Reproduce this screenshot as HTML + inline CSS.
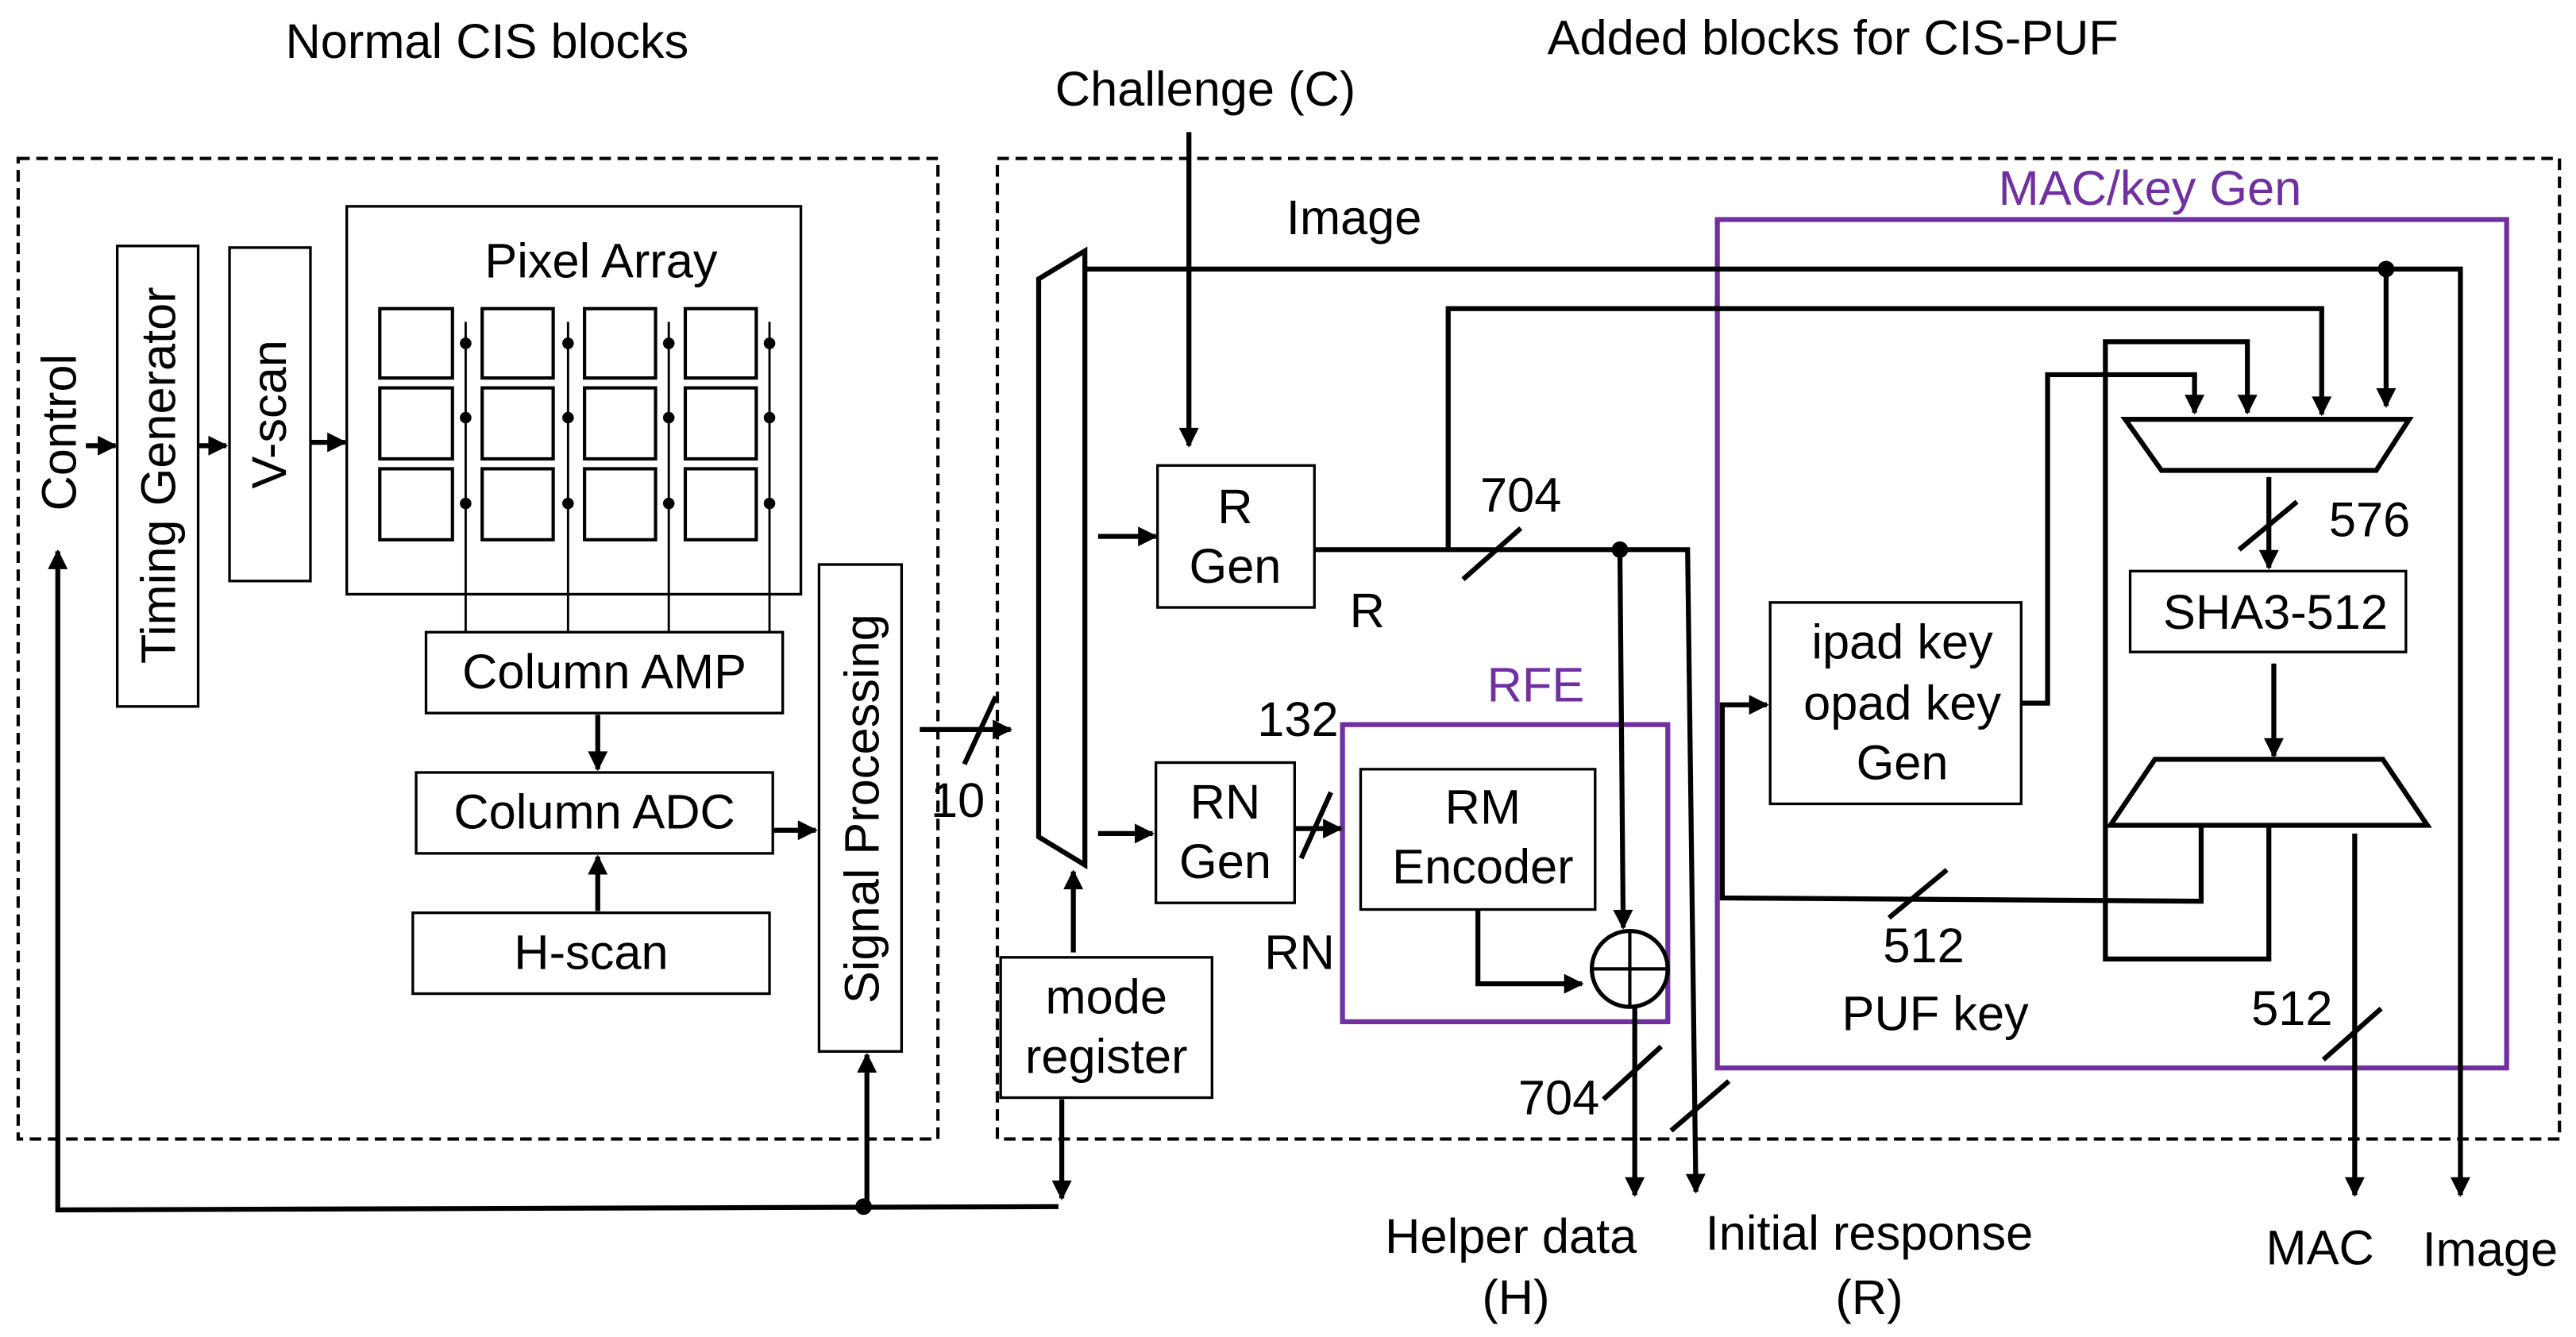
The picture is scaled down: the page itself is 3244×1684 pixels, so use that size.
<!DOCTYPE html>
<html><head><meta charset="utf-8"><style>
html,body{margin:0;padding:0;background:#fff;}
svg{display:block;}
text{font-family:"Liberation Sans",Arial,sans-serif;fill:#000;}
</style></head><body>
<svg width="3244" height="1684" viewBox="0 0 1560 810" preserveAspectRatio="none" xmlns="http://www.w3.org/2000/svg">
<defs>
<marker id="a" viewBox="0 0 10 10" refX="9" refY="5" markerWidth="4.2" markerHeight="4" orient="auto" markerUnits="strokeWidth"><path d="M0,0 L10,5 L0,10 z" fill="#000"/></marker>
</defs>
<g font-size="29.5" text-anchor="middle">
<text x="295" y="35">Normal CIS blocks</text>
<text x="1110" y="33">Added blocks for CIS-PUF</text>
<text x="730" y="64">Challenge (C)</text>
</g>
<rect x="11" y="96" width="557" height="594" fill="none" stroke="#000" stroke-width="2" stroke-dasharray="7,4"/>
<rect x="604" y="96" width="946" height="594" fill="none" stroke="#000" stroke-width="2" stroke-dasharray="7,4"/>

<g fill="none" stroke="#000" stroke-width="1.6">
<rect x="71" y="149" width="49" height="279"/>
<rect x="139" y="150" width="49" height="202"/>
<rect x="210" y="125" width="275" height="235"/>
<rect x="258" y="383" width="216" height="49"/>
<rect x="252" y="468" width="216" height="49"/>
<rect x="250" y="553" width="216" height="49"/>
<rect x="496" y="342" width="50" height="295"/>
<rect x="606" y="580" width="128" height="85"/>
<rect x="701" y="282" width="95" height="86"/>
<rect x="700" y="462" width="84" height="85"/>
<rect x="824" y="466" width="142" height="85"/>
<rect x="1072" y="365" width="152" height="122"/>
<rect x="1290" y="346" width="167" height="49"/>
</g>
<g fill="none" stroke="#000" stroke-width="2">
<rect x="230" y="187" width="44" height="42"/><rect x="292" y="187" width="43" height="42"/><rect x="354" y="187" width="43" height="42"/><rect x="415" y="187" width="43" height="42"/>
<rect x="230" y="235" width="44" height="43"/><rect x="292" y="235" width="43" height="43"/><rect x="354" y="235" width="43" height="43"/><rect x="415" y="235" width="43" height="43"/>
<rect x="230" y="284" width="44" height="43"/><rect x="292" y="284" width="43" height="43"/><rect x="354" y="284" width="43" height="43"/><rect x="415" y="284" width="43" height="43"/>
</g>
<g stroke="#000" stroke-width="1.4">
<line x1="282" y1="195" x2="282" y2="383"/><line x1="344" y1="195" x2="344" y2="383"/><line x1="405" y1="195" x2="405" y2="383"/><line x1="466" y1="195" x2="466" y2="383"/>
</g>
<g fill="#000">
<circle cx="282" cy="208" r="3.5"/><circle cx="282" cy="253" r="3.5"/><circle cx="282" cy="305" r="3.5"/>
<circle cx="344" cy="208" r="3.5"/><circle cx="344" cy="253" r="3.5"/><circle cx="344" cy="305" r="3.5"/>
<circle cx="405" cy="208" r="3.5"/><circle cx="405" cy="253" r="3.5"/><circle cx="405" cy="305" r="3.5"/>
<circle cx="466" cy="208" r="3.5"/><circle cx="466" cy="253" r="3.5"/><circle cx="466" cy="305" r="3.5"/>
<circle cx="523" cy="731" r="5"/><circle cx="981" cy="333" r="5"/><circle cx="1445" cy="163" r="5"/>
</g>
<rect x="813" y="439" width="197" height="180" fill="none" stroke="#7030a0" stroke-width="3"/>
<rect x="1040" y="133" width="478" height="514" fill="none" stroke="#7030a0" stroke-width="3"/>
<polygon points="629,169 657,152 657,524 629,507" fill="none" stroke="#000" stroke-width="3"/>
<polygon points="1287,254 1459,254 1439,285 1309,285" fill="none" stroke="#000" stroke-width="3"/>
<polygon points="1305,460 1443,460 1470,500 1278,500" fill="none" stroke="#000" stroke-width="3"/>
<circle cx="987" cy="587" r="23" fill="none" stroke="#000" stroke-width="2.5"/>
<line x1="964" y1="587" x2="1010" y2="587" stroke="#000" stroke-width="2"/>
<line x1="987" y1="564" x2="987" y2="610" stroke="#000" stroke-width="2"/>

<g fill="none" stroke="#000" stroke-width="3">
<line x1="52" y1="270" x2="70" y2="270" marker-end="url(#a)"/>
<line x1="120" y1="270" x2="137" y2="270" marker-end="url(#a)"/>
<line x1="188" y1="268" x2="209" y2="268" marker-end="url(#a)"/>
<line x1="362" y1="433" x2="362" y2="466" marker-end="url(#a)"/>
<line x1="362" y1="552" x2="362" y2="519" marker-end="url(#a)"/>
<line x1="468" y1="503" x2="494" y2="503" marker-end="url(#a)"/>
<line x1="557" y1="442" x2="612" y2="442" marker-end="url(#a)"/>
<line x1="584" y1="463" x2="603" y2="422"/>
<polyline points="641,731 35,733 35,334" marker-end="url(#a)"/>
<line x1="525" y1="733" x2="525" y2="639" marker-end="url(#a)"/>
<line x1="643" y1="666" x2="643" y2="726" marker-end="url(#a)"/>
<line x1="650" y1="577" x2="650" y2="528" marker-end="url(#a)"/>
<line x1="720" y1="80" x2="720" y2="270" marker-end="url(#a)"/>
<line x1="665" y1="325" x2="700" y2="325" marker-end="url(#a)"/>
<line x1="665" y1="505" x2="698" y2="505" marker-end="url(#a)"/>
<line x1="784" y1="502" x2="812" y2="502" marker-end="url(#a)"/>
<line x1="788" y1="520" x2="806" y2="480"/>
<polyline points="657,163 1490,163 1490,724" marker-end="url(#a)"/>
<line x1="1445" y1="163" x2="1445" y2="246" marker-end="url(#a)"/>
<polyline points="877,333 877,187 1406,187 1406,251" marker-end="url(#a)"/>
<polyline points="796,333 1022,333 1027,722" marker-end="url(#a)"/>
<line x1="886" y1="351" x2="921" y2="320"/>
<line x1="981" y1="333" x2="983" y2="562" marker-end="url(#a)"/>
<line x1="990" y1="610" x2="990" y2="724" marker-end="url(#a)"/>
<line x1="971" y1="666" x2="1006" y2="634"/>
<line x1="1012" y1="685" x2="1047" y2="655"/>
<polyline points="895,551 895,596 958,596" marker-end="url(#a)"/>
<polyline points="1224,426 1240,426 1240,227 1329,227 1329,250" marker-end="url(#a)"/>
<polyline points="1374,500 1374,581 1275,581 1275,207 1361,207 1361,250" marker-end="url(#a)"/>
<line x1="1374" y1="289" x2="1374" y2="344" marker-end="url(#a)"/>
<line x1="1356" y1="333" x2="1391" y2="304"/>
<line x1="1377" y1="402" x2="1377" y2="458" marker-end="url(#a)"/>
<polyline points="1333,500 1333,546 1043,544 1043,427 1070,427" marker-end="url(#a)"/>
<line x1="1144" y1="556" x2="1179" y2="527"/>
<line x1="1426" y1="505" x2="1426" y2="724" marker-end="url(#a)"/>
<line x1="1407" y1="642" x2="1442" y2="611"/>
</g>

<g font-size="29.5" text-anchor="middle">
<text transform="translate(46,262) rotate(-90)">Control</text>
<text transform="translate(106,288) rotate(-90)">Timing Generator</text>
<text transform="translate(173,251) rotate(-90)">V-scan</text>
<text transform="translate(532,490) rotate(-90)">Signal Processing</text>
<text x="364" y="168">Pixel Array</text>
<text x="366" y="417">Column AMP</text>
<text x="360" y="502">Column ADC</text>
<text x="358" y="587">H-scan</text>
<text x="580" y="495">10</text>
<text x="670" y="614">mode</text>
<text x="670" y="650">register</text>
<text x="748" y="317">R</text>
<text x="748" y="353">Gen</text>
<text x="742" y="496">RN</text>
<text x="742" y="532">Gen</text>
<text x="898" y="499">RM</text>
<text x="898" y="535">Encoder</text>
<text x="820" y="142">Image</text>
<text x="921" y="310">704</text>
<text x="828" y="380">R</text>
<text x="786" y="446">132</text>
<text x="787" y="587">RN</text>
<text x="944" y="675">704</text>
<text x="1152" y="399">ipad key</text>
<text x="1152" y="436">opad key</text>
<text x="1152" y="472">Gen</text>
<text x="1378" y="381">SHA3-512</text>
<text x="1435" y="325">576</text>
<text x="1165" y="583">512</text>
<text x="1172" y="624">PUF key</text>
<text x="1388" y="621">512</text>
<text x="915" y="759">Helper data</text>
<text x="918" y="796">(H)</text>
<text x="1132" y="757">Initial response</text>
<text x="1132" y="796">(R)</text>
<text x="1405" y="766">MAC</text>
<text x="1508" y="767">Image</text>
<text x="930" y="425" style="fill:#7030a0">RFE</text>
<text x="1302" y="124" style="fill:#7030a0">MAC/key Gen</text>
</g>
</svg>
</body></html>
